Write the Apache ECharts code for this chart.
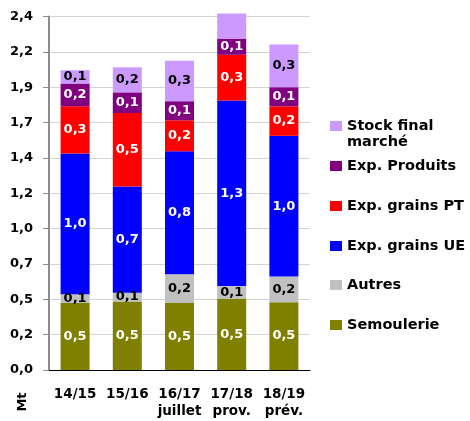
<!DOCTYPE html>
<html>
<head>
<meta charset="utf-8">
<script src="https://cdn.jsdelivr.net/npm/echarts@6/dist/echarts.min.js"></script>
<style>html,body{margin:0;padding:0;background:#fff}#c{width:470px;height:421px}</style>
</head>
<body>
<div id="c"></div>
<script>
var categories = ['14/15', '15/16', '16/17\njuillet', '17/18\nprov.', '18/19\nprév.'];
var yTickLabels = ['0,0', '0,2', '0,5', '0,7', '1,0', '1,2', '1,4', '1,7', '1,9', '2,2', '2,4'];
var semoulerie = [0.455, 0.465, 0.455, 0.485, 0.46];
var autres = [0.06, 0.06, 0.195, 0.085, 0.175];
var expUE = [0.955, 0.72, 0.835, 1.26, 0.955];
var expPT = [0.32, 0.5, 0.21, 0.31, 0.2];
var expProduits = [0.155, 0.14, 0.13, 0.11, 0.13];
var stockFinal = [0.09, 0.17, 0.275, 0.17, 0.29];
var stockHiddenLabel = [false, false, false, true, false];

var FONT = 'DejaVu Sans';
function fmt(v) { return v.toFixed(1).replace('.', ','); }

function mkSeries(name, data, color, labelColor, hidden) {
  return {
    name: name, type: 'bar', stack: 'total', barWidth: 29, clip: false,
    itemStyle: { color: color },
    label: {
      show: true, position: 'inside', color: labelColor,
      fontFamily: FONT, fontWeight: 'bold', fontSize: 13,
      formatter: function (p) { return fmt(p.value); }
    },
    data: data.map(function (v, i) {
      return (hidden && hidden[i]) ? { value: v, label: { show: false } } : v;
    })
  };
}

var legendDefs = [
  { name: 'Stock final marché', top: 118, text: 'Stock final\nmarché', twoLine: true },
  { name: 'Exp. Produits', top: 158 },
  { name: 'Exp. grains PT', top: 198 },
  { name: 'Exp. grains UE', top: 238 },
  { name: 'Autres', top: 277 },
  { name: 'Semoulerie', top: 317 }
];

var chart = echarts.init(document.getElementById('c'), null, { renderer: 'canvas' });
chart.setOption({
  animation: false,
  backgroundColor: '#fff',
  grid: { left: 49, right: 160, top: 16.5, bottom: 51, containLabel: false },
  legend: legendDefs.map(function (d) {
    return {
      data: [d.twoLine ? { name: d.name, icon: 'path://M0,0H12V10H0Z M0,26h0.01v-0.01h-0.01Z' } : d.name],
      left: 330, top: d.top, padding: 0,
      itemWidth: 12, itemHeight: d.twoLine ? 26 : 10, icon: 'rect', selectedMode: false,
      formatter: function (n) { return d.text || n; },
      textStyle: { fontFamily: FONT, fontWeight: 'bold', fontSize: 14.5, color: '#000', lineHeight: 16 }
    };
  }),
  xAxis: {
    type: 'category', data: categories,
    axisLine: { lineStyle: { color: '#000', width: 1 } },
    axisTick: { show: false },
    axisLabel: { color: '#000', fontFamily: FONT, fontWeight: 'bold', fontSize: 13.5, lineHeight: 17, margin: 15.5, interval: 0 }
  },
  yAxis: {
    type: 'value', min: 0, max: 2.4, interval: 0.24,
    axisLine: { show: true, lineStyle: { color: '#8c8c8c', width: 2 } },
    axisTick: { show: true, length: 6, lineStyle: { color: '#8c8c8c' } },
    splitLine: { lineStyle: { color: '#d4d4d4', width: 1 } },
    axisLabel: {
      color: '#000', fontFamily: FONT, fontWeight: 'bold', fontSize: 13, margin: 16,
      formatter: function (v) { return yTickLabels[Math.round(v / 0.24)]; }
    }
  },
  graphic: [{
    type: 'text', x: 22.5, y: 402, rotation: Math.PI / 2,
    style: { text: 'Mt', fontFamily: FONT, fontWeight: 'bold', fontSize: 13, fill: '#000', align: 'center', verticalAlign: 'middle' }
  }],
  series: [
    mkSeries('Semoulerie', semoulerie, '#808000', '#fff'),
    mkSeries('Autres', autres, '#c0c0c0', '#000'),
    mkSeries('Exp. grains UE', expUE, '#0000ff', '#fff'),
    mkSeries('Exp. grains PT', expPT, '#ff0000', '#fff'),
    mkSeries('Exp. Produits', expProduits, '#800080', '#fff'),
    mkSeries('Stock final marché', stockFinal, '#cc99ff', '#000', stockHiddenLabel)
  ]
});
</script>
</body>
</html>
